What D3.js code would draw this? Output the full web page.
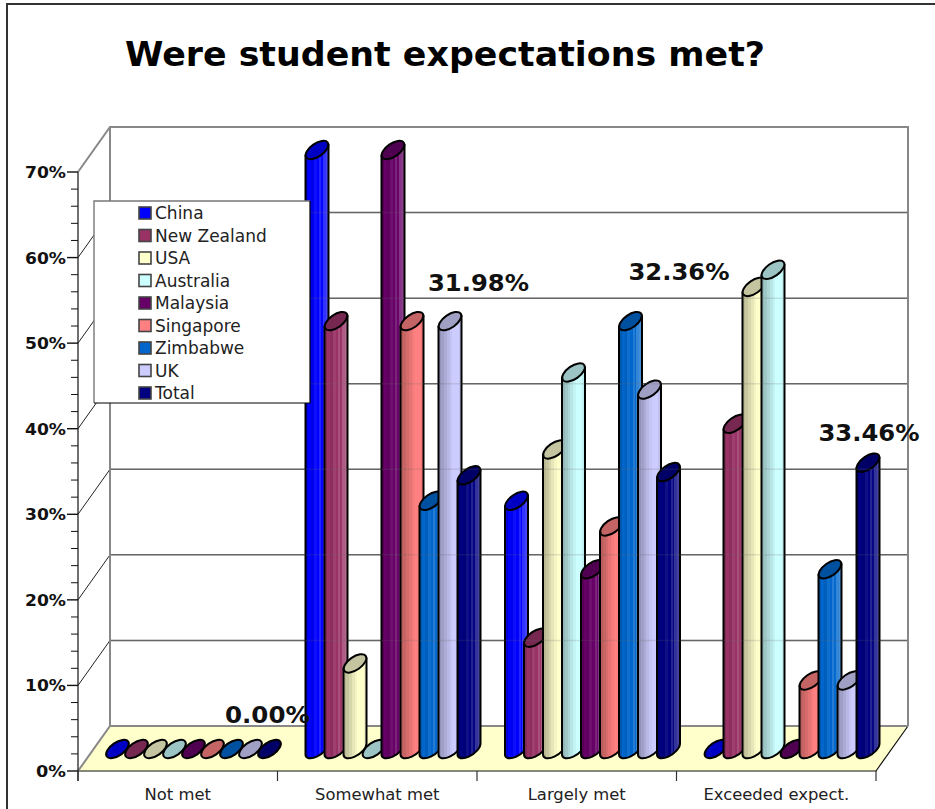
<!DOCTYPE html>
<html><head><meta charset="utf-8">
<script src="https://cdnjs.cloudflare.com/ajax/libs/d3/7.8.5/d3.min.js"></script>
<style>html,body{margin:0;padding:0;background:#fff}svg{display:block}text{font-family:"DejaVu Sans",Verdana,sans-serif}</style>
</head><body><svg id="c" width="935" height="809"></svg>
<script>
const titleText = "Were student expectations met?";
const categories = ["Not met","Somewhat met","Largely met","Exceeded expect."];
const seriesNames = ["China","New Zealand","USA","Australia","Malaysia","Singapore","Zimbabwe","UK","Total"];
const china      = [0,70,29,0];
const newZealand = [0,50,13,38];
const usa        = [0,10,35,54];
const australia  = [0,0,44,56];
const malaysia   = [0,70,21,0];
const singapore  = [0,50,26,8];
const zimbabwe   = [0,29,50,21];
const uk         = [0,50,42,8];
const total      = [0,31.98,32.36,33.46];
const seriesValues = [china,newZealand,usa,australia,malaysia,singapore,zimbabwe,uk,total];
const seriesColors = ["#0000ff","#993366","#ffffcc","#ccffff","#660066","#ff8080","#0066cc","#ccccff","#000080"];
const topColors    = ["#0000c4","#762850","#c4c4a0","#9cc4c4","#500050","#c46464","#0050a0","#a0a0c4","#000066"];
const majorTicks = [0,10,20,30,40,50,60,70];
const minorTicks = d3.range(0,70,2).filter(v=>v%10!==0);
const totalLabels = ["0.00%","31.98%","32.36%","33.46%"];

const svg = d3.select("#c");
const x = d3.scaleBand().domain(categories).range([78,876]);
const y = d3.scaleLinear().domain([0,70]).range([771,172]);
const sx = d3.scaleBand().domain(seriesNames).range([28,199]);
const depthX = 32, depthY = -45;
const barLift = 22;
const barW = 23, rA = 13.1, rB = 6.5, rot = -35, tang = 5.3;
const wallTop = y(70)+depthY, wallBot = y(0)+depthY;
const gridC = "#666", wallC = "#888";

svg.append("path").attr("d","M7,809V4H935").attr("fill","none").attr("stroke","#333").attr("stroke-width",2);

const defs = svg.append("defs");
const offs = [0,.12,.24,.36,.48,.60,.68,.76,.88,1];
const darkBands  = [.86,1.0,.92,1.06,1.0,1.14,1.02,1.2,1.26,1.3];
const lightBands = [.72,.78,.84,.9,.96,1.0,1.0,1.0,.94,.86];
seriesColors.forEach((c,i)=>{
  const g = defs.append("linearGradient").attr("id","g"+i);
  const light = i===2||i===3||i===5||i===7;
  const b = light ? lightBands : darkBands;
  const shade = t => t<=1 ? d3.interpolateRgb("#000",c)(t) : d3.interpolateRgb(c,"#fff")(t-1);
  b.forEach((t,k)=>{
    g.append("stop").attr("offset",offs[k]).attr("stop-color",shade(t));
    if(k<b.length-1) g.append("stop").attr("offset",offs[k+1]).attr("stop-color",shade(t));
  });
});

const fx0=x.range()[0], fx1=x.range()[1];
svg.append("path").attr("d",`M${fx0},${y(0)}L${fx0+depthX},${wallBot}H${fx1+depthX}L${fx1},${y(0)}Z`).attr("fill","#ffffcc").attr("stroke","none");
svg.append("path").attr("d",`M${fx1+depthX},${wallBot}L${fx1},${y(0)}H${fx0}`).attr("fill","none").attr("stroke","#111").attr("stroke-width",1.2);
svg.append("path").attr("d",`M${fx0},${y(0)}L${fx0+depthX},${wallBot}H${fx1+depthX}`).attr("fill","none").attr("stroke",wallC).attr("stroke-width",2);

const inner = majorTicks.filter(v=>v>0&&v<70);
svg.selectAll(".g").data(inner).join("line").attr("x1",fx0+depthX).attr("x2",fx1+depthX)
  .attr("y1",v=>y(v)+depthY).attr("y2",v=>y(v)+depthY).attr("stroke",gridC).attr("stroke-width",1.5);
svg.selectAll(".s").data(inner).join("line").attr("x1",fx0).attr("x2",fx0+depthX)
  .attr("y1",v=>y(v)).attr("y2",v=>y(v)+depthY).attr("stroke","#222").attr("stroke-width",1);
svg.append("path").attr("d",`M${fx0},${y(70)}L${fx0+depthX},${wallTop}H${fx1+depthX}V${wallBot}M${fx0+depthX},${wallTop}V${wallBot}`)
  .attr("fill","none").attr("stroke",wallC).attr("stroke-width",2);

categories.forEach((cat,ci)=>{
  seriesNames.forEach((name,si)=>{
    const v = seriesValues[si][ci];
    const L = x(cat)+sx(name), R = L+barW, cx = (L+R)/2;
    const yb = y(0)-barLift, yt = y(v)-barLift;
    if(v>0){
      svg.append("path")
        .attr("d",`M${L},${yt+tang}L${L},${yb+tang}A${rA},${rB} ${rot} 0 0 ${R},${yb-tang}L${R},${yt-tang}Z`)
        .attr("fill",`url(#g${si})`).attr("stroke","#000").attr("stroke-width",2).attr("stroke-linejoin","round");
    }
    svg.append("ellipse").attr("rx",rA).attr("ry",rB)
      .attr("transform",`translate(${cx},${yt}) rotate(${rot})`)
      .attr("fill",topColors[si]).attr("stroke","#000").attr("stroke-width",2);
  });
});

svg.selectAll(".o").data(inner).join("line").attr("x1",fx0+depthX).attr("x2",fx1+depthX)
  .attr("y1",v=>y(v)+depthY).attr("y2",v=>y(v)+depthY).attr("stroke",gridC).attr("stroke-width",1.5).attr("opacity",.18);

svg.append("line").attr("x1",fx0).attr("x2",fx0).attr("y1",y(70)).attr("y2",y(0)+10).attr("stroke","#111").attr("stroke-width",1.2);
svg.selectAll(".mj").data(majorTicks).join("line").attr("x1",67).attr("x2",fx0).attr("y1",y).attr("y2",y).attr("stroke","#111").attr("stroke-width",1.4);
svg.selectAll(".mn").data(minorTicks).join("line").attr("x1",71).attr("x2",fx0).attr("y1",y).attr("y2",y).attr("stroke","#111").attr("stroke-width",1);
svg.selectAll(".yl").data(majorTicks).join("text").attr("x",66).attr("y",v=>y(v)+6).attr("text-anchor","end")
  .attr("font-size",15).attr("font-weight","bold").attr("fill","#111")
  .attr("textLength",v=>v?41:30).attr("lengthAdjust","spacingAndGlyphs").text(v=>v+"%");

[...categories.map(c=>x(c)),fx1].forEach(px=>{
  svg.append("line").attr("x1",px).attr("x2",px).attr("y1",y(0)).attr("y2",y(0)+10).attr("stroke","#333").attr("stroke-width",1.2);
});
svg.selectAll(".xl").data(categories).join("text").attr("x",c=>x(c)+x.bandwidth()/2).attr("y",800)
  .attr("text-anchor","middle").attr("font-size",16.4).attr("fill","#222").text(c=>c);

const labelDX = [147,150.5,151.5,142], labelBase = [723,291,280,441];
svg.selectAll(".tl").data(totalLabels).join("text")
  .attr("x",(d,i)=>x(categories[i])+labelDX[i]).attr("y",(d,i)=>labelBase[i])
  .attr("font-size",23).attr("font-weight","bold").attr("fill","#111")
  .attr("textLength",(d,i)=>i?101:85).attr("lengthAdjust","spacingAndGlyphs").text(d=>d);

svg.append("text").attr("x",125).attr("y",66).attr("font-size",34).attr("font-weight","bold").attr("fill","#000")
  .attr("textLength",640).attr("lengthAdjust","spacingAndGlyphs").text(titleText);

const lg = svg.append("g");
lg.append("rect").attr("x",94).attr("y",201).attr("width",216).attr("height",202).attr("fill","#fff");
lg.append("path").attr("d","M94,403V201H310").attr("fill","none").attr("stroke","#777").attr("stroke-width",1.4);
lg.append("path").attr("d","M94,403H310V201").attr("fill","none").attr("stroke","#000").attr("stroke-width",1.2);
const ly = d3.scalePoint().domain(seriesNames).range([213,393]);
seriesNames.forEach((n,i)=>{
  lg.append("rect").attr("x",139).attr("y",ly(n)-6).attr("width",12).attr("height",12)
    .attr("fill",seriesColors[i]).attr("stroke","#444").attr("stroke-width",1.6);
  lg.append("text").attr("x",155).attr("y",ly(n)+6).attr("font-size",17).attr("fill","#222").text(n);
});
</script></body></html>
